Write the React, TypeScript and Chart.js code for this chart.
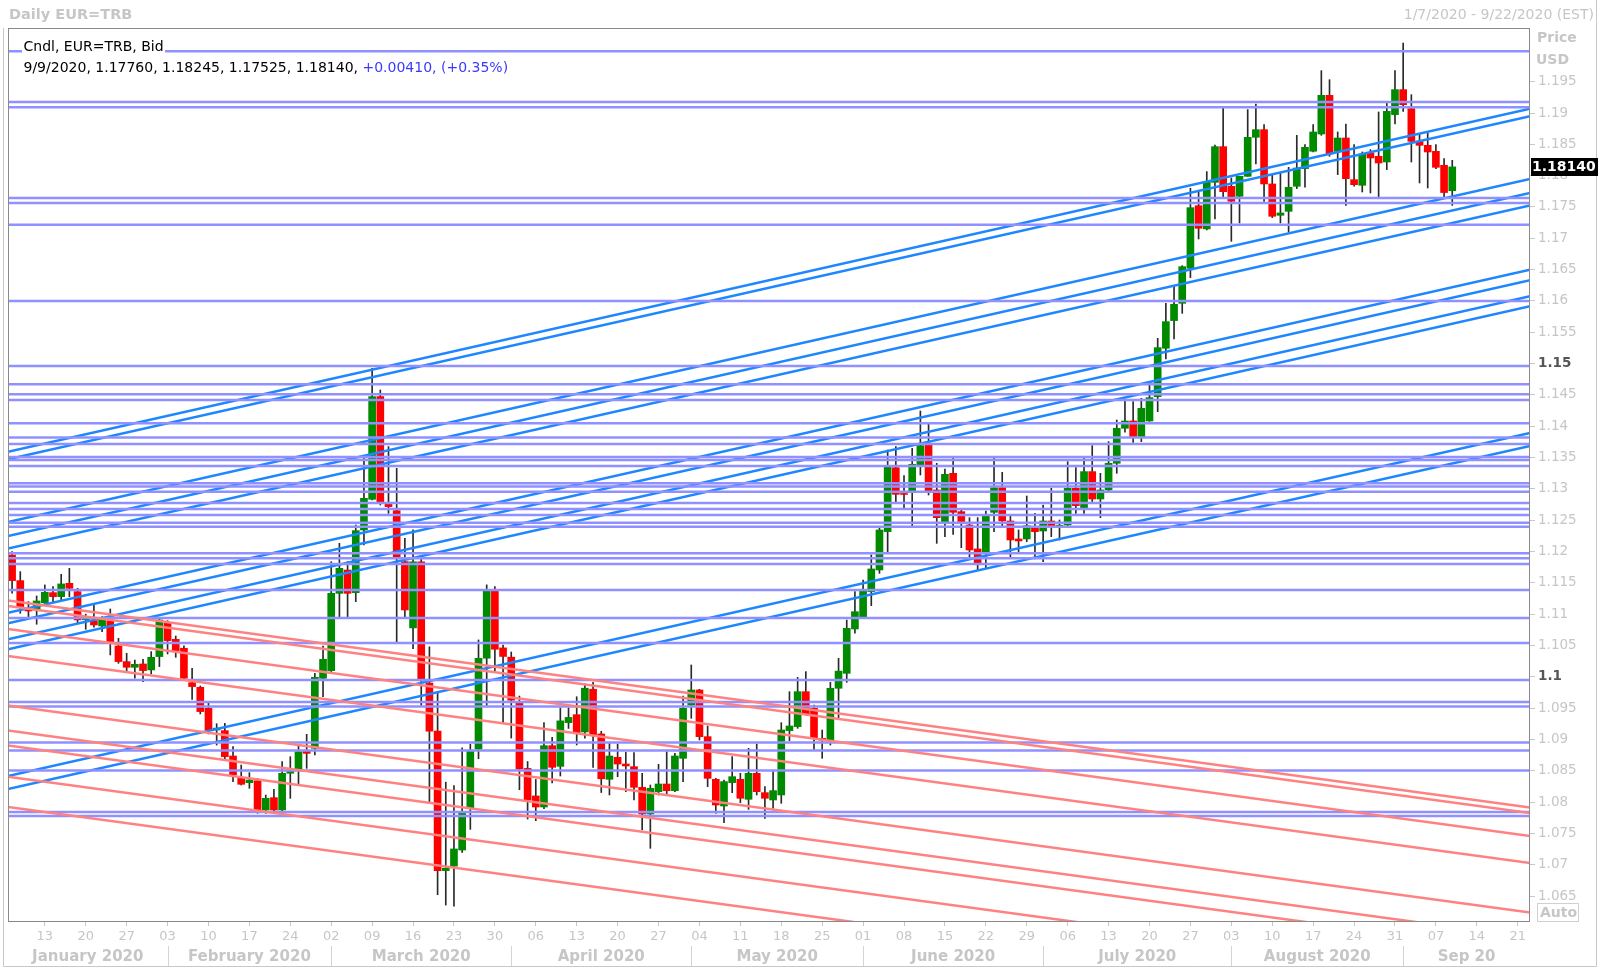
import React, { useEffect, useRef } from "react";
import { Chart, registerables } from "chart.js";

Chart.register(...registerables);

// ---- Data ----
// One candle per weekday, index 0 = 1/7/2020 ... index 176 = 9/9/2020
const opens = [
  1.11944, 1.11535, 1.1107, 1.11066, 1.11183, 1.11343, 1.11279, 1.11492, 1.11359, 1.1091,
  1.10896, 1.10811, 1.10896, 1.10492, 1.10242, 1.10151, 1.10204, 1.10109, 1.10322, 1.10854,
  1.10598, 1.10455, 1.09906, 1.09832, 1.09497, 1.0915, 1.0914, 1.08735, 1.08378, 1.08309,
  1.0834, 1.07873, 1.0807, 1.07873, 1.0846, 1.08511, 1.08814, 1.08857, 1.09975, 1.10097,
  1.11332, 1.11704, 1.11343, 1.12343, 1.12833, 1.14472, 1.12758, 1.12652, 1.11838, 1.1078,
  1.11835, 1.099, 1.09131, 1.06905, 1.06976, 1.07234, 1.0791, 1.08845, 1.10296, 1.11374,
  1.10461, 1.10313, 1.09582, 1.08537, 1.08097, 1.07921, 1.089, 1.0857, 1.09268, 1.09395,
  1.09119, 1.09801, 1.09087, 1.08363, 1.08714, 1.08607, 1.08565, 1.08235, 1.07809, 1.08166,
  1.08288, 1.08182, 1.08698, 1.09549, 1.09789, 1.09044, 1.08363, 1.07937, 1.0831, 1.08363,
  1.08044, 1.08458, 1.0815, 1.08033, 1.08113, 1.0914, 1.09204, 1.09762, 1.09496, 1.09017,
  1.08975, 1.09816, 1.10055, 1.10763, 1.10959, 1.11359, 1.11705, 1.12317, 1.13338, 1.1292,
  1.12966, 1.13381, 1.137, 1.12982, 1.12466, 1.13248, 1.12636, 1.12423, 1.1204, 1.11987,
  1.12625, 1.13019, 1.12487, 1.122, 1.122, 1.1237, 1.12327, 1.12487, 1.124, 1.12423,
  1.13009, 1.127, 1.13275, 1.12838, 1.12982, 1.13408, 1.13967, 1.14083, 1.13833, 1.14083,
  1.14471, 1.15244, 1.15686, 1.15962, 1.16521, 1.1752, 1.17149, 1.17893, 1.18463, 1.1783,
  1.1767, 1.17989, 1.18612, 1.18734, 1.17867, 1.17367, 1.1743, 1.1783, 1.18112, 1.18389,
  1.18665, 1.19282, 1.18389, 1.18601, 1.17936, 1.17846, 1.18362, 1.18309, 1.18218, 1.18974,
  1.19373, 1.1907, 1.18548, 1.18484, 1.18388, 1.18165, 1.1776,
];
const highs = [
  1.11998, 1.11678, 1.112, 1.1129, 1.11466, 1.11439, 1.11636, 1.11732, 1.11412, 1.11,
  1.11146, 1.1096, 1.11082, 1.10614, 1.10375, 1.10268, 1.10279, 1.10401, 1.10933, 1.10896,
  1.10651, 1.10492, 1.10135, 1.09853, 1.09577, 1.0925, 1.09257, 1.08884, 1.08591, 1.08469,
  1.08378, 1.08112, 1.08203, 1.08644, 1.08724, 1.0891, 1.09081, 1.10055, 1.10491, 1.11837,
  1.1213, 1.11837, 1.12423, 1.13487, 1.14924, 1.14578, 1.13674, 1.13327, 1.1221, 1.12347,
  1.1188, 1.10478, 1.09736, 1.08317, 1.08262, 1.08867, 1.08922, 1.10588, 1.11467, 1.1144,
  1.10505, 1.10395, 1.09692, 1.08647, 1.08361, 1.09268, 1.09032, 1.09505, 1.09505, 1.09681,
  1.09889, 1.09911, 1.0913, 1.08937, 1.08927, 1.08794, 1.08788, 1.08458, 1.08272, 1.08602,
  1.08804, 1.08778, 1.09693, 1.10188, 1.098, 1.09214, 1.08379, 1.08352, 1.08725, 1.08458,
  1.08858, 1.08927, 1.08246, 1.08485, 1.09267, 1.09762, 1.09991, 1.10082, 1.09549, 1.0915,
  1.09911, 1.10294, 1.10906, 1.11359, 1.11545, 1.11945, 1.1238, 1.1362, 1.13674, 1.1321,
  1.13647, 1.14243, 1.1403, 1.13408, 1.13317, 1.13498, 1.12689, 1.1254, 1.1254, 1.12646,
  1.13498, 1.13264, 1.12572, 1.12343, 1.12886, 1.12609, 1.12742, 1.13009, 1.12503, 1.13434,
  1.13338, 1.13487, 1.1369, 1.13248, 1.13754, 1.14099, 1.14435, 1.14392, 1.14445, 1.14658,
  1.15403, 1.15962, 1.16244, 1.16563, 1.17798, 1.17745, 1.18064, 1.18489, 1.19075, 1.17963,
  1.17989, 1.19054, 1.19144, 1.18814, 1.18016, 1.18042, 1.18133, 1.18644, 1.18495, 1.18814,
  1.19676, 1.19532, 1.18697, 1.18825, 1.18495, 1.18378, 1.18415, 1.19016, 1.1916, 1.19676,
  1.20118, 1.19293, 1.18665, 1.18681, 1.18495, 1.18271, 1.18245,
];
const lows = [
  1.11333, 1.11013, 1.1096, 1.10838, 1.1117, 1.112, 1.11226, 1.11279, 1.10864, 1.10758,
  1.1079, 1.10721, 1.10348, 1.10215, 1.10082, 1.09976, 1.09922, 1.10045, 1.10162, 1.10364,
  1.10311, 1.0996, 1.0964, 1.09406, 1.09087, 1.0891, 1.08683, 1.08325, 1.08272, 1.08219,
  1.0782, 1.0782, 1.0782, 1.07846, 1.08059, 1.08272, 1.08538, 1.08751, 1.09682, 1.10081,
  1.10959, 1.10959, 1.11199, 1.12104, 1.12822, 1.12742, 1.12609, 1.1056, 1.10933, 1.1045,
  1.09543, 1.08004, 1.0652, 1.06355, 1.06338, 1.07196, 1.07564, 1.08691, 1.09543, 1.10093,
  1.09268, 1.09021, 1.08196, 1.07729, 1.07702, 1.07894, 1.08306, 1.08416, 1.09175, 1.08911,
  1.0902, 1.08554, 1.08152, 1.08113, 1.08405, 1.08166, 1.08033, 1.07554, 1.07261, 1.08113,
  1.08113, 1.08166, 1.08326, 1.09337, 1.08991, 1.08246, 1.0782, 1.07671, 1.0815, 1.0799,
  1.07884, 1.08113, 1.0774, 1.079, 1.0798, 1.08981, 1.09177, 1.0939, 1.08842, 1.08698,
  1.0891, 1.09347, 1.09911, 1.10694, 1.10959, 1.11135, 1.11651, 1.11997, 1.12796, 1.127,
  1.12412, 1.13221, 1.12902, 1.1213, 1.12237, 1.12274, 1.12061, 1.11891, 1.11705, 1.11742,
  1.12317, 1.12397, 1.11891, 1.11987, 1.12157, 1.1188, 1.11838, 1.12237, 1.12184, 1.12412,
  1.12609, 1.12609, 1.12796, 1.1254, 1.12955, 1.13248, 1.13903, 1.13743, 1.13754, 1.14078,
  1.14232, 1.15073, 1.15392, 1.15802, 1.16372, 1.16989, 1.17133, 1.17308, 1.17665, 1.16952,
  1.17244, 1.17989, 1.18186, 1.1759, 1.1733, 1.17244, 1.17101, 1.17793, 1.17814, 1.18378,
  1.18644, 1.18309, 1.18016, 1.17526, 1.1783, 1.17739, 1.17723, 1.17654, 1.18096, 1.18825,
  1.19027, 1.18218, 1.17883, 1.17803, 1.18112, 1.17643, 1.17525,
];
const closes = [
  1.11535, 1.1112, 1.1105, 1.1121, 1.11348, 1.11279, 1.11482, 1.11412, 1.10907, 1.1093,
  1.10827, 1.10907, 1.10561, 1.10242, 1.10151, 1.10199, 1.10098, 1.10311, 1.10907, 1.10577,
  1.10417, 1.09976, 1.09843, 1.09444, 1.09151, 1.0918, 1.08725, 1.08432, 1.08283, 1.08351,
  1.07873, 1.08059, 1.07873, 1.08458, 1.0851, 1.08804, 1.08777, 1.09991, 1.10278, 1.11332,
  1.11731, 1.11332, 1.12333, 1.12849, 1.14472, 1.12795, 1.12716, 1.11891, 1.11066, 1.11835,
  1.09955, 1.09131, 1.06905, 1.06943, 1.07251, 1.07822, 1.08812, 1.10296, 1.11374, 1.10439,
  1.10324, 1.09626, 1.08526, 1.08031, 1.07921, 1.089, 1.08554, 1.09296, 1.09351, 1.09103,
  1.09818, 1.09076, 1.08372, 1.08735, 1.08607, 1.08576, 1.08235, 1.07809, 1.08219, 1.08288,
  1.08182, 1.08735, 1.09496, 1.09789, 1.09044, 1.08379, 1.07953, 1.08326, 1.08405, 1.0806,
  1.08458, 1.08166, 1.0806, 1.08182, 1.0915, 1.09214, 1.09762, 1.09406, 1.09017, 1.0899,
  1.09816, 1.1009, 1.10773, 1.11039, 1.1137, 1.11721, 1.12343, 1.13354, 1.12913, 1.1291,
  1.13392, 1.1369, 1.12966, 1.1254, 1.13232, 1.12625, 1.12477, 1.12024, 1.11811, 1.12572,
  1.13019, 1.12487, 1.12184, 1.12168, 1.12412, 1.12316, 1.12487, 1.12412, 1.1242, 1.13009,
  1.12732, 1.13275, 1.12838, 1.12982, 1.13408, 1.13967, 1.14083, 1.13833, 1.14285, 1.14456,
  1.15254, 1.15669, 1.15946, 1.16547, 1.17489, 1.17159, 1.17893, 1.18463, 1.17744, 1.1759,
  1.17989, 1.18612, 1.18734, 1.17867, 1.17351, 1.17404, 1.17814, 1.18122, 1.18452, 1.18697,
  1.19282, 1.18346, 1.18601, 1.17952, 1.17856, 1.18346, 1.18282, 1.18202, 1.19027, 1.19373,
  1.19133, 1.18548, 1.18484, 1.18378, 1.18133, 1.1773, 1.1814,
];

const lastDateLabel = "9/9/2020";
const X_MIN = -0.5; // left edge (1/7/2020 slot)
const X_MAX = 185.5; // right edge (9/22/2020 slot)
const Y_MIN = 1.06085;
const Y_MAX = 1.20357;

const dayTickIndex = [
  4, 9, 14, 19, 24, 29, 34, 39, 44, 49, 54, 59, 64, 69, 74, 79, 84, 89, 94, 99,
  104, 109, 114, 119, 124, 129, 134, 139, 144, 149, 154, 159, 164, 169, 174, 179, 184,
];
const dayTickLabels = [
  "13", "20", "27", "03", "10", "17", "24", "02", "09", "16", "23", "30", "06", "13", "20",
  "27", "04", "11", "18", "25", "01", "08", "15", "22", "29", "06", "13", "20", "27", "03",
  "10", "17", "24", "31", "07", "14", "21",
];
const monthStartIndex = [19, 39, 61, 83, 104, 126, 149, 170];
const monthLabels = [
  "January 2020", "February 2020", "March 2020", "April 2020", "May 2020",
  "June 2020", "July 2020", "August 2020", "Sep 20",
];
const yTickValues = [
  1.065, 1.07, 1.075, 1.08, 1.085, 1.09, 1.095, 1.1, 1.105, 1.11, 1.115, 1.12, 1.125, 1.13,
  1.135, 1.14, 1.145, 1.15, 1.155, 1.16, 1.165, 1.17, 1.175, 1.18, 1.185, 1.19, 1.195,
];
const boldTicks = [1.1, 1.15];

const horizontalLevels = [
  1.19985, 1.19176, 1.19091, 1.17643, 1.17564, 1.17218, 1.16, 1.14961, 1.14669, 1.1451,
  1.14419, 1.14047, 1.1382, 1.13716, 1.13508, 1.13461, 1.13365, 1.13089, 1.13038, 1.12955,
  1.12774, 1.12678, 1.12583, 1.1246, 1.12396, 1.11971, 1.11891, 1.118, 1.11385, 1.10938,
  1.10539, 1.09948, 1.09597, 1.09526, 1.08951, 1.08823, 1.08504, 1.07841, 1.07777,
];
const blueStart = [
  1.13593, 1.13472, 1.12471, 1.12247, 1.12048, 1.11023, 1.10854, 1.10598, 1.10439, 1.08416, 1.08209,
];
const blueEnd = [
  1.19069, 1.18948, 1.17947, 1.17723, 1.17524, 1.16499, 1.1633, 1.16074, 1.15915, 1.13892, 1.13685,
];
const redStart = [1.11218, 1.1113, 1.10763, 1.10332, 1.09542, 1.09142, 1.08903, 1.08405, 1.07921];
const redEnd = [1.07913, 1.07825, 1.07458, 1.07027, 1.06237, 1.05837, 1.05598, 1.051, 1.04616];

const FONT = '"DejaVu Sans"';
const LIGHT = "#c6c6c6";

const decorPlugin = {
  id: "decor",
  afterDraw(chart: any) {
    const ctx = chart.ctx as CanvasRenderingContext2D;
    const ca = chart.chartArea;
    const xs = chart.scales.x;
    const ys = chart.scales.y;
    ctx.save();

    // plot frame
    ctx.strokeStyle = "#8a8a8a";
    ctx.lineWidth = 1;
    ctx.strokeRect(ca.left + 0.5, ca.top + 0.5, ca.right - ca.left - 1, ca.bottom - ca.top - 1);

    // outer frame
    ctx.strokeStyle = "#c8c8c8";
    ctx.beginPath();
    ctx.moveTo(3.5, ca.top);
    ctx.lineTo(3.5, 966.5);
    ctx.lineTo(1596.5, 966.5);
    ctx.lineTo(1596.5, 0);
    ctx.stroke();

    // month separators
    ctx.strokeStyle = "#d4d4d4";
    monthStartIndex.forEach((m) => {
      const x = Math.round(xs.getPixelForValue(m)) + 0.5;
      ctx.beginPath();
      ctx.moveTo(x, 946);
      ctx.lineTo(x, 966);
      ctx.stroke();
    });

    ctx.textBaseline = "middle";
    // title
    ctx.fillStyle = LIGHT;
    ctx.font = `bold 14.5px ${FONT}`;
    ctx.textAlign = "left";
    ctx.fillText("Daily EUR=TRB", 9, 15);
    ctx.font = `14px ${FONT}`;
    ctx.textAlign = "right";
    ctx.fillText("1/7/2020 - 9/22/2020 (EST)", 1594, 15);

    // Price / USD
    ctx.textAlign = "left";
    ctx.font = `bold 14px ${FONT}`;
    ctx.fillText("Price", 1537, 38);
    ctx.fillText("USD", 1536, 60);

    // Auto box
    ctx.strokeStyle = "#d0d0d0";
    ctx.strokeRect(1537.5, 903.5, 41, 18);
    ctx.fillStyle = LIGHT;
    ctx.font = `bold 14px ${FONT}`;
    ctx.fillText("Auto", 1540, 913);

    // last price box
    const last = closes.length - 1;
    const py = ys.getPixelForValue(closes[last]);
    ctx.fillStyle = "#000";
    ctx.fillRect(1531, Math.round(py) - 9, 67, 18);
    ctx.fillStyle = "#fff";
    ctx.font = `bold 14px ${FONT}`;
    ctx.fillText(closes[last].toFixed(5), 1532, Math.round(py) + 0.5);

    // header
    ctx.font = `14px ${FONT}`;
    const h1 = "Cndl, EUR=TRB, Bid";
    const w1 = ctx.measureText(h1).width;
    ctx.fillStyle = "#fff";
    ctx.fillRect(22, 39, w1 + 3, 16);
    ctx.fillStyle = "#000";
    ctx.fillText(h1, 23.5, 47);

    const chg = closes[last] - closes[last - 1];
    const pct = (chg / closes[last - 1]) * 100;
    const part1 = `${lastDateLabel}, ${opens[last].toFixed(5)}, ${highs[last].toFixed(5)}, ${lows[last].toFixed(5)}, ${closes[last].toFixed(5)}, `;
    const sign = chg >= 0 ? "+" : "";
    const part2 = `${sign}${chg.toFixed(5)}, (${sign}${pct.toFixed(2)}%)`;
    ctx.fillText(part1, 23.5, 68.5);
    const wp = ctx.measureText(part1).width;
    ctx.fillStyle = "#3a3aff";
    ctx.fillText(part2, 23.5 + wp, 68.5);

    ctx.restore();
  },
};

export default function App() {
  const ref = useRef<HTMLCanvasElement | null>(null);

  useEffect(() => {
    if (!ref.current) return;
    const green = "#008a00";
    const red = "#ff0000";

    const lineDs = (a: number, b: number, color: string, width: number) => ({
      type: "line" as const,
      data: [
        { x: X_MIN, y: a },
        { x: X_MAX, y: b },
      ],
      borderColor: color,
      borderWidth: width,
      pointRadius: 0,
      pointHoverRadius: 0,
      fill: false,
      tension: 0,
      order: 0,
    });

    const datasets: any[] = [];
    redStart.forEach((v, i) => datasets.push(lineDs(v, redEnd[i], "#ff8282", 2.5)));
    horizontalLevels.forEach((v) => datasets.push(lineDs(v, v, "#9090ff", 2.5)));
    blueStart.forEach((v, i) => datasets.push(lineDs(v, blueEnd[i], "#1e86ff", 2.5)));

    datasets.push({
      type: "bar",
      data: opens.map((o, i) => ({ x: i, y: [o, closes[i]] })),
      backgroundColor: opens.map((o, i) => (closes[i] >= o ? green : red)),
      borderWidth: 0,
      barThickness: 7,
      minBarLength: 1,
      grouped: false,
      order: 1,
    });
    datasets.push({
      type: "bar",
      data: opens.map((_, i) => ({ x: i, y: [lows[i], highs[i]] })),
      backgroundColor: "#2a2a2a",
      borderWidth: 0,
      barThickness: 1,
      grouped: false,
      order: 2,
    });

    const monthBounds = [X_MIN, ...monthStartIndex, X_MAX];
    const monthCenters = monthLabels.map((_, i) => (monthBounds[i] + monthBounds[i + 1]) / 2);

    const isBold = (v: number) => boldTicks.some((b) => Math.abs(b - v) < 1e-7);

    Chart.defaults.font.family = FONT;

    const chart = new Chart(ref.current, {
      type: "bar",
      data: { datasets },
      plugins: [decorPlugin],
      options: {
        animation: false,
        responsive: false,
        devicePixelRatio: 1,
        events: [],
        layout: { padding: { left: 8, top: 28, right: 0, bottom: 0 } },
        plugins: { legend: { display: false }, tooltip: { enabled: false } },
        scales: {
          x: {
            type: "linear",
            position: "bottom",
            min: X_MIN,
            max: X_MAX,
            offset: false,
            weight: 0,
            border: { display: false },
            grid: {
              display: true,
              drawOnChartArea: false,
              drawTicks: true,
              tickLength: 4,
              color: "#c8c8c8",
              offset: false,
            },
            ticks: {
              autoSkip: false,
              maxRotation: 0,
              minRotation: 0,
              padding: 3,
              color: LIGHT,
              font: { family: FONT, size: 13 },
              callback: (_v: any, index: number) => dayTickLabels[index],
            },
            afterBuildTicks: (scale: any) => {
              scale.ticks = dayTickIndex.map((v) => ({ value: v }));
            },
            afterFit: (scale: any) => {
              scale.height = 22;
            },
          },
          x2: {
            type: "linear",
            position: "bottom",
            min: X_MIN,
            max: X_MAX,
            offset: false,
            weight: 1,
            border: { display: false },
            grid: { display: false, drawTicks: false, drawOnChartArea: false },
            ticks: {
              autoSkip: false,
              maxRotation: 0,
              minRotation: 0,
              padding: 4,
              color: LIGHT,
              font: { family: FONT, size: 15, weight: "bold" },
              callback: (_v: any, index: number) => monthLabels[index],
            },
            afterBuildTicks: (scale: any) => {
              scale.ticks = monthCenters.map((v) => ({ value: v }));
            },
            afterFit: (scale: any) => {
              scale.height = 26;
            },
          },
          y: {
            type: "linear",
            position: "right",
            min: Y_MIN,
            max: Y_MAX,
            border: { display: false },
            grid: {
              display: true,
              drawOnChartArea: false,
              drawTicks: true,
              tickLength: 5,
              color: "#c8c8c8",
            },
            ticks: {
              padding: 3,
              color: (c: any) => (isBold(c.tick?.value ?? 0) ? "#555555" : LIGHT),
              font: (c: any) => ({
                family: FONT,
                size: 13.5,
                weight: isBold(c.tick?.value ?? 0) ? "bold" : "normal",
              }),
              callback: (v: any) => parseFloat(Number(v).toFixed(3)).toString(),
            },
            afterBuildTicks: (scale: any) => {
              scale.ticks = yTickValues.map((v) => ({ value: v }));
            },
            afterFit: (scale: any) => {
              scale.width = 70;
            },
          },
        },
      } as any,
    });

    return () => chart.destroy();
  }, []);

  return (
    <div
      style={{
        position: "fixed",
        left: 0,
        top: 0,
        width: 1600,
        height: 970,
        background: "#ffffff",
      }}
    >
      <canvas ref={ref} width={1600} height={970} style={{ display: "block", width: 1600, height: 970 }} />
    </div>
  );
}
